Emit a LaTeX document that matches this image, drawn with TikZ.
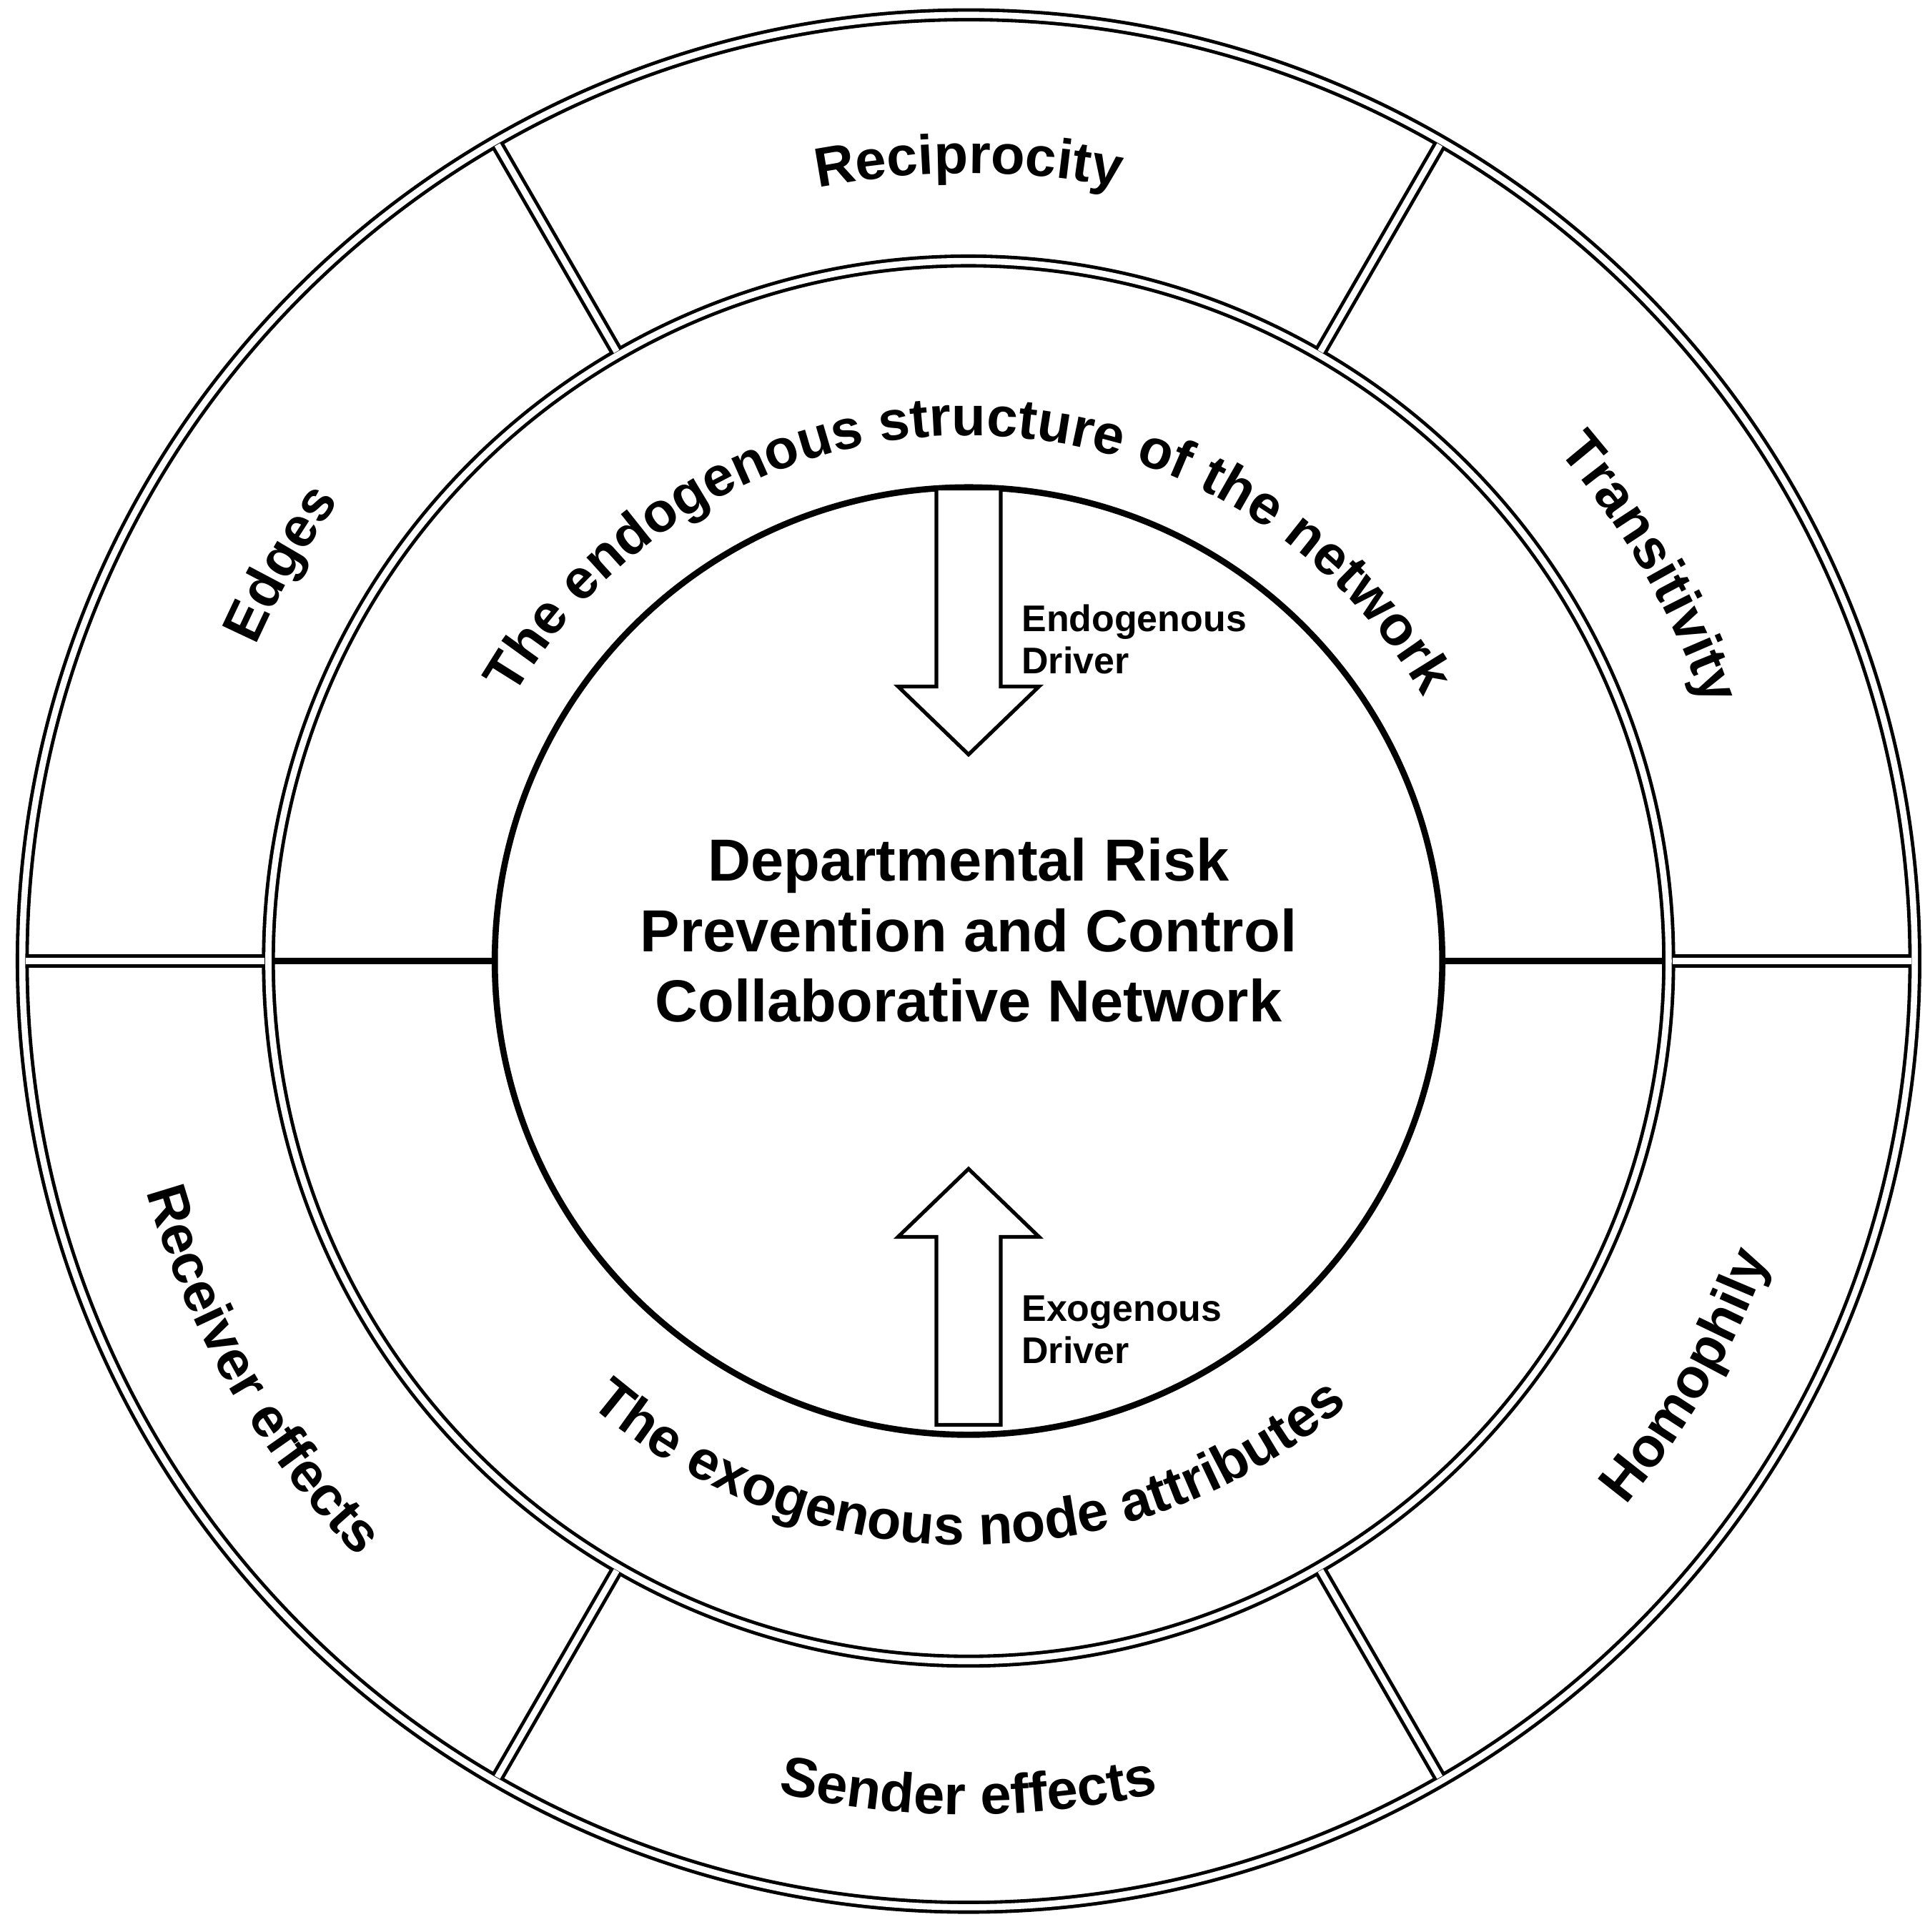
\documentclass[tikz,border=0pt]{standalone}
\usepackage{fontspec}
\setmainfont{Liberation Sans}
\usetikzlibrary{decorations.text}
\begin{document}
\begin{tikzpicture}[x=0.5pt,y=0.5pt,
  dbl/.style={draw=black,line width=1.4pt,double=white,double distance=2.5pt},
  arr/.style={draw=black,fill=white,line width=1.5pt,line join=miter},
  lbl/.style={font=\bfseries\fontsize{15}{20}\selectfont,align=left,anchor=west},
  ctext/.style={decorate,decoration={text along path,text align=center,
     text={|\bfseries\fontsize{22.5}{27}\selectfont|#1}}}]
\useasboundingbox (-783,-785) rectangle (777,777);
% rings
\draw[dbl] (0,0) circle (765);
\draw[dbl] (0,0) circle (566);
\draw[line width=2.5pt] (0,0) circle (383);
% dividers outer ring
\foreach \a in {0,60,120,180,240,300}
  \draw[dbl] (\a:569) -- (\a:762);
\draw[line width=2.5pt] (0:383) -- (0:563);
\draw[line width=2.5pt] (180:383) -- (180:563);
% arrows
\draw[arr] (-26,382) -- (-26,222) -- (-57,222) -- (0,167) -- (57,222) -- (26,222) -- (26,382) -- cycle;
\draw[arr] (-26,-375) -- (-26,-223) -- (-57,-223) -- (0,-168) -- (57,-223) -- (26,-223) -- (26,-375) -- cycle;
\node[lbl] (endo) at (36,260) {Endogenous\\[-3pt]Driver};
\node[lbl] (exo) at (36,-298) {Exogenous\\[-3pt]Driver};
\node[font=\bfseries\fontsize{24}{28.5}\selectfont,align=center] (center) at (0,25)
  {Departmental Risk\\Prevention and Control\\Collaborative Network};
% curved texts (top: clockwise, bottom: counterclockwise)
\path[ctext={Reciprocity}] (120:637) arc (120:60:637);
\path[ctext={Edges}] (180:630) arc (180:120:630);
\path[ctext={Transitivity}] (60:630) arc (60:0:630);
\path[ctext={Receiver effects}] (180:690) arc (180:240:690);
\path[ctext={Sender effects}] (240:690) arc (240:300:690);
\path[ctext={Homophily}] (300:690) arc (300:360:690);
\path[ctext={The endogenous structure of the network}] (180:425) arc (180:0:425);
\path[ctext={The exogenous node attributes}] (180:472) arc (180:360:472);
\end{tikzpicture}
\end{document}
